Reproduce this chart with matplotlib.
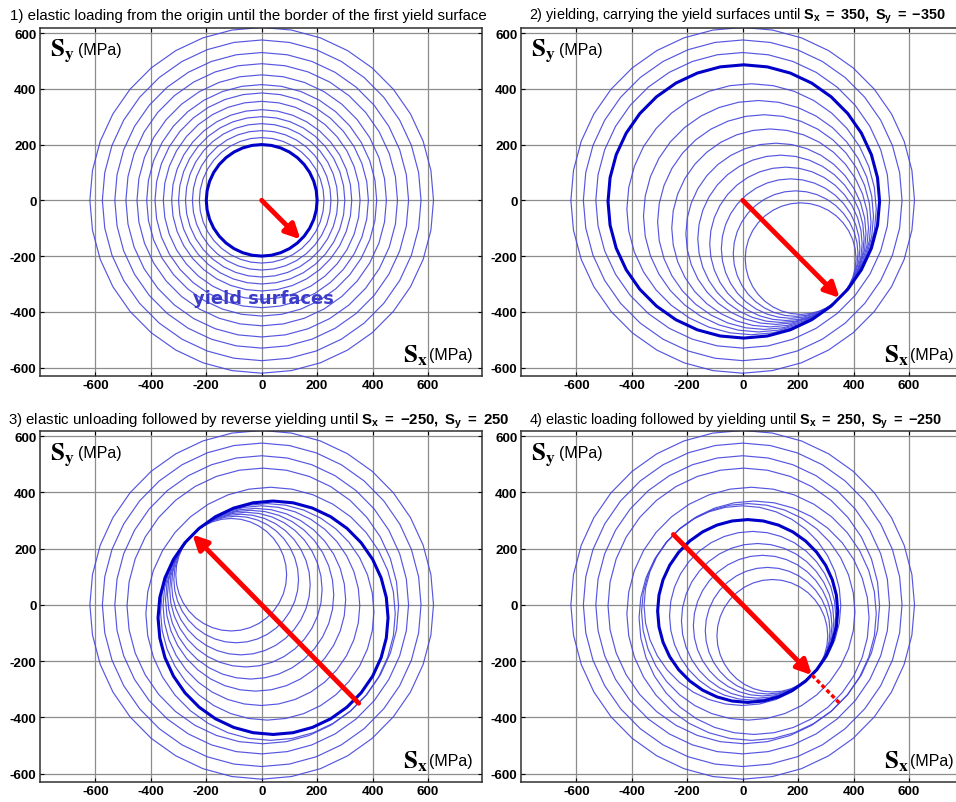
import matplotlib
matplotlib.use('Agg')
import matplotlib.pyplot as plt
from matplotlib.patches import RegularPolygon

plt.rcParams['font.family'] = 'Liberation Sans'
plt.rcParams['axes.unicode_minus'] = False
plt.rcParams['mathtext.fontset'] = 'custom'
plt.rcParams['mathtext.bf'] = 'Liberation Sans:bold'
plt.rcParams['mathtext.rm'] = 'Liberation Sans'
plt.rcParams['mathtext.it'] = 'Liberation Sans:italic'

# yield surface radii (MPa)
radii = [200, 225, 250, 275, 300, 325, 355, 385, 415, 450, 490, 530, 575, 620]

# surface centres for each stage (Sx, Sy)
centers_1 = [(0, 0), (0, 0), (0, 0), (0, 0), (0, 0), (0, 0), (0, 0),
             (0, 0), (0, 0), (0, 0), (0, 0), (0, 0), (0, 0), (0, 0)]
centers_2 = [(209, -209), (191, -191), (173, -173), (156, -156), (138, -138),
             (120, -120), (99, -99), (78, -78), (57, -57), (32, -32),
             (4, -4), (0, 0), (0, 0), (0, 0)]
centers_3 = [(-110, 107), (-92, 90), (-75, 72), (-57, 54), (-40, 36),
             (-22, 18), (-1, -3), (20, -25), (41, -46), (32, -32),
             (4, -4), (0, 0), (0, 0), (0, 0)]
centers_4 = [(107, -110), (90, -92), (72, -74), (54, -57), (36, -39),
             (18, -22), (-1, -3), (20, -25), (41, -46), (32, -32),
             (4, -4), (0, 0), (0, 0), (0, 0)]

# radius of the highlighted (active) surface in each stage
active = [200, 490, 415, 325]

# stress path: start and end of each loading step
path_start = [(0, 0), (0, 0), (350, -350), (-250, 250)]
path_end = [(140, -140), (350, -350), (-250, 250), (250, -250)]
extra_start = (250, -250)
extra_end = (350, -350)

titles = [
    '1) elastic loading from the origin until the border of the first yield surface',
    r'2) yielding, carrying the yield surfaces until $\mathbf{S_x\ =\ 350,\ S_y\ =\ {-}350}$',
    r'3) elastic unloading followed by reverse yielding until $\mathbf{S_x\ =\ {-}250,\ S_y\ =\ 250}$',
    r'4) elastic loading followed by yielding until $\mathbf{S_x\ =\ 250,\ S_y\ =\ {-}250}$',
]
title_size = [10.8, 10.4, 10.8, 10.4]
ticks = [-600, -400, -200, 0, 200, 400, 600]

W, H = 956, 803
fig = plt.figure(figsize=(W / 100, H / 100), dpi=100)

# axes boxes in pixels: left, top, right, bottom
boxes = [(40, 29, 482, 377), (521, 29, 963, 377),
         (40, 432, 482, 783), (521, 432, 963, 783)]
title_pos = [(10, 20), (529, 20), (8, 425), (529, 425)]
all_centers = [centers_1, centers_2, centers_3, centers_4]

for i in range(4):
    l, t, r, b = boxes[i]
    ax = fig.add_axes([l / W, 1 - b / H, (r - l) / W, (b - t) / H])
    ax.set_xlim(-800, 795)
    ax.set_ylim(-630, 618)
    ax.set_xticks(ticks)
    ax.set_yticks(ticks)
    ax.grid(True, color='#8c8c8c', lw=0.9)
    ax.set_axisbelow(True)
    ax.tick_params(direction='in', length=3, top=True, right=True,
                   labelsize=9.7, pad=2.5)
    for lab in ax.get_xticklabels() + ax.get_yticklabels():
        lab.set_fontweight('bold')
    for s in ax.spines.values():
        s.set_color('#303030')
        s.set_linewidth(1.1)

    for rad, c in zip(radii, all_centers[i]):
        if rad == active[i]:
            p = RegularPolygon(c, numVertices=36, radius=rad, fill=False,
                               ec='#0000c8', lw=2.2, zorder=3)
        else:
            p = RegularPolygon(c, numVertices=36, radius=rad, fill=False,
                               ec='#4444dd', lw=0.85, alpha=0.9, zorder=2)
        ax.add_patch(p)

    ax.annotate('', xy=path_end[i], xytext=path_start[i], zorder=5,
                arrowprops=dict(arrowstyle='-|>', color='#ff0000', lw=3.5,
                                mutation_scale=22, shrinkA=0, shrinkB=0))
    if i == 3:
        ax.plot([extra_start[0], extra_end[0]], [extra_start[1], extra_end[1]],
                color='#ff0000', lw=2.5, ls=(0, (1.2, 0.8)), zorder=4)
    if i == 0:
        ax.text(5, -352, 'yield surfaces', color='#3c3cc8', fontsize=13,
                fontweight='bold', family='DejaVu Sans', ha='center',
                va='center', zorder=6)

    ax.text(0.022, 0.92, r'$\mathbf{S_y}$', transform=ax.transAxes,
            fontsize=18, math_fontfamily='stix', va='baseline', zorder=6)
    ax.text(0.085, 0.925, '(MPa)', transform=ax.transAxes, fontsize=11.5,
            va='baseline', zorder=6)
    ax.text(0.821, 0.043, r'$\mathbf{S_x}$', transform=ax.transAxes,
            fontsize=18, math_fontfamily='stix', va='baseline', zorder=6)
    ax.text(0.880, 0.049, '(MPa)', transform=ax.transAxes, fontsize=11.5,
            va='baseline', zorder=6)

    tx, ty = title_pos[i]
    fig.text(tx / W, 1 - ty / H, titles[i], fontsize=title_size[i],
             va='baseline')

fig.savefig('out.png', dpi=100)
